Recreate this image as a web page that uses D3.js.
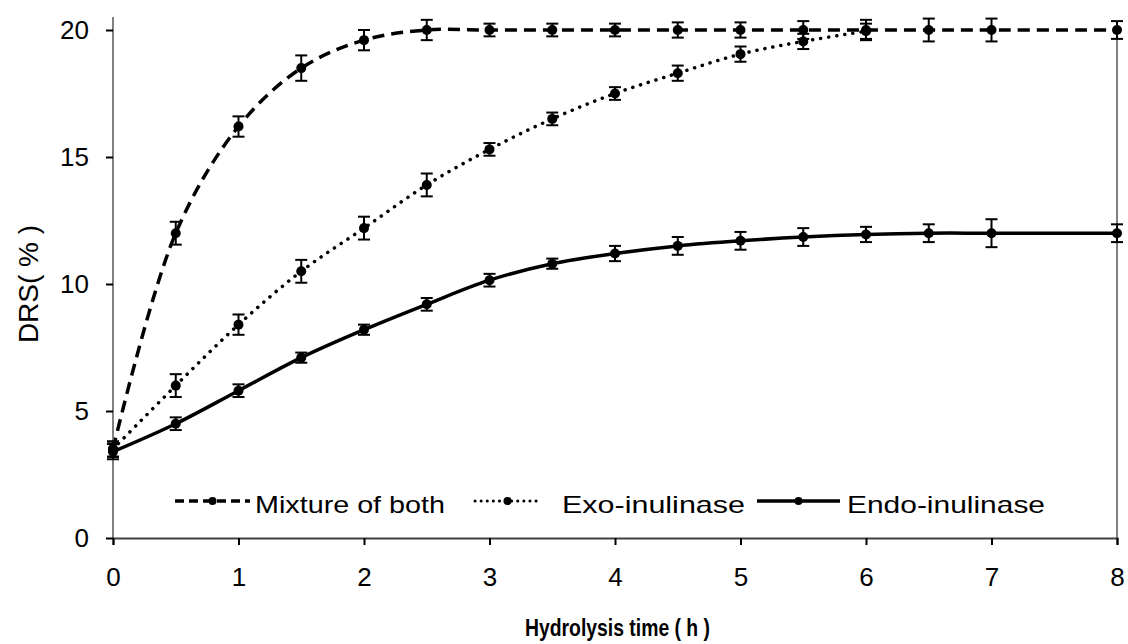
<!DOCTYPE html>
<html>
<head>
<meta charset="utf-8">
<script src="https://cdn.jsdelivr.net/npm/d3@7"></script>
<style>
  body { margin: 0; background: #fff; }
  text { font-family: "Liberation Sans", Arial, sans-serif; fill: #000; }
</style>
</head>
<body>
<div class="viz"></div>
<script>
// Hydrolysis time (h)
const timesMix = [0, 0.5, 1, 1.5, 2, 2.5, 3, 3.5, 4, 4.5, 5, 5.5, 6, 6.5, 7, 8];
const mixValues = [3.5, 12.0, 16.2, 18.5, 19.6, 20.0, 20.0, 20.0, 20.0, 20.0, 20.0, 20.0, 20.0, 20.0, 20.0, 20.0];
const mixErrors = [0.3, 0.45, 0.4, 0.5, 0.4, 0.4, 0.25, 0.25, 0.25, 0.3, 0.3, 0.35, 0.4, 0.45, 0.45, 0.35];

const timesExo = [0, 0.5, 1, 1.5, 2, 2.5, 3, 3.5, 4, 4.5, 5, 5.5, 6];
const exoValues = [3.5, 6.0, 8.4, 10.5, 12.2, 13.9, 15.3, 16.5, 17.5, 18.3, 19.05, 19.55, 19.95];
const exoErrors = [0.3, 0.45, 0.4, 0.45, 0.45, 0.45, 0.25, 0.25, 0.25, 0.3, 0.3, 0.3, 0.3];

const timesEndo = [0, 0.5, 1, 1.5, 2, 2.5, 3, 3.5, 4, 4.5, 5, 5.5, 6, 6.5, 7, 8];
const endoValues = [3.4, 4.5, 5.8, 7.1, 8.2, 9.2, 10.15, 10.8, 11.2, 11.5, 11.7, 11.85, 11.95, 12.0, 12.0, 12.0];
const endoErrors = [0.3, 0.25, 0.25, 0.2, 0.2, 0.25, 0.25, 0.2, 0.3, 0.35, 0.35, 0.35, 0.3, 0.35, 0.55, 0.35];

const xTicks = [0, 1, 2, 3, 4, 5, 6, 7, 8];
const yTicks = [0, 5, 10, 15, 20];

const totalWidth = 1128;
const totalHeight = 644;
const margin = { top: 30, right: 11, bottom: 106, left: 113 };
const width = totalWidth - margin.left - margin.right;
const height = totalHeight - margin.top - margin.bottom;

const svg = d3
  .select(".viz")
  .append("svg")
  .attr("width", totalWidth)
  .attr("height", totalHeight);

const g = svg
  .append("g")
  .attr("transform", `translate(${margin.left},${margin.top})`);

const xScale = d3.scaleLinear().domain([0, 8]).range([0, width]);
const yScale = d3.scaleLinear().domain([0, 20]).range([height, 0]);

// Frame lines: gray left and right, darker bottom
g.append("line")
  .attr("x1", 0).attr("x2", 0)
  .attr("y1", -13).attr("y2", height)
  .attr("stroke", "#808080").attr("stroke-width", 2);

g.append("line")
  .attr("x1", width).attr("x2", width)
  .attr("y1", 0).attr("y2", height)
  .attr("stroke", "#808080").attr("stroke-width", 2);

// Axes
const xAxis = g
  .append("g")
  .attr("transform", `translate(0,${height})`)
  .call(d3.axisBottom(xScale).tickValues(xTicks).tickSize(7).tickPadding(23).tickFormat(d3.format("d")));
xAxis.select(".domain").attr("stroke", "#404040").attr("stroke-width", 2);
xAxis.selectAll(".tick line").attr("stroke", "#000").attr("stroke-width", 2);
xAxis.selectAll(".tick text")
  .style("font-size", "26px")
  .style("font-family", "'Liberation Sans', Arial, sans-serif")
  .attr("fill", "#000");

const yAxis = g
  .append("g")
  .call(d3.axisLeft(yScale).tickValues(yTicks).tickSize(7).tickPadding(17).tickFormat(d3.format("d")));
yAxis.select(".domain").remove();
yAxis.selectAll(".tick line").attr("stroke", "#000").attr("stroke-width", 2);
yAxis.selectAll(".tick text")
  .style("font-size", "26px")
  .style("font-family", "'Liberation Sans', Arial, sans-serif")
  .attr("fill", "#000");

// Axis titles
svg.append("text")
  .attr("x", 525)
  .attr("y", 636)
  .attr("textLength", 185)
  .attr("lengthAdjust", "spacingAndGlyphs")
  .style("font-size", "24px")
  .style("font-weight", "bold")
  .text("Hydrolysis time ( h )");

svg.append("text")
  .attr("transform", `translate(38, ${margin.top + yScale(10)}) rotate(-90)`)
  .attr("text-anchor", "middle")
  .style("font-size", "28px")
  .text("DRS( % )");

// Series
const series = [
  { name: "Mixture of both", x: timesMix, y: mixValues, err: mixErrors, dash: "12,7", cap: "butt", width: 3.5 },
  { name: "Exo-inulinase", x: timesExo, y: exoValues, err: exoErrors, dash: "0.1,8", cap: "round", width: 3.5 },
  { name: "Endo-inulinase", x: timesEndo, y: endoValues, err: endoErrors, dash: null, cap: "butt", width: 3.5 },
];

const line = d3
  .line()
  .x((d) => xScale(d[0]))
  .y((d) => yScale(d[1]))
  .curve(d3.curveCatmullRom.alpha(0.5));

series.forEach((s) => {
  const pts = s.x.map((t, i) => [t, s.y[i], s.err[i]]);

  g.append("path")
    .datum(pts)
    .attr("d", line)
    .attr("fill", "none")
    .attr("stroke", "#000")
    .attr("stroke-width", s.width)
    .attr("stroke-linecap", s.cap)
    .attr("stroke-dasharray", s.dash);

  // Error bars
  const eb = g.append("g").attr("stroke", "#000").attr("stroke-width", 2);
  eb.selectAll(".v")
    .data(pts)
    .enter()
    .append("line")
    .attr("x1", (d) => xScale(d[0]))
    .attr("x2", (d) => xScale(d[0]))
    .attr("y1", (d) => yScale(d[1] - d[2]))
    .attr("y2", (d) => yScale(d[1] + d[2]));
  eb.selectAll(".t")
    .data(pts)
    .enter()
    .append("line")
    .attr("x1", (d) => xScale(d[0]) - 6)
    .attr("x2", (d) => xScale(d[0]) + 6)
    .attr("y1", (d) => yScale(d[1] + d[2]))
    .attr("y2", (d) => yScale(d[1] + d[2]));
  eb.selectAll(".b")
    .data(pts)
    .enter()
    .append("line")
    .attr("x1", (d) => xScale(d[0]) - 6)
    .attr("x2", (d) => xScale(d[0]) + 6)
    .attr("y1", (d) => yScale(d[1] - d[2]))
    .attr("y2", (d) => yScale(d[1] - d[2]));

  // Markers
  g.selectAll(null)
    .data(pts)
    .enter()
    .append("circle")
    .attr("cx", (d) => xScale(d[0]))
    .attr("cy", (d) => yScale(d[1]))
    .attr("r", 5)
    .attr("fill", "#000");
});

// Legend (sample line start/end, text start and width)
const legendPos = [
  { x1: 175, x2: 250, tx: 255, tw: 190 },
  { x1: 475, x2: 540, tx: 562, tw: 183 },
  { x1: 757, x2: 840, tx: 847, tw: 198 },
];
const legendY = 501;

series.forEach((s, i) => {
  const p = legendPos[i];
  svg.append("line")
    .attr("x1", p.x1).attr("x2", p.x2)
    .attr("y1", legendY).attr("y2", legendY)
    .attr("stroke", "#000")
    .attr("stroke-width", i === 1 ? 3 : 3.5)
    .attr("stroke-linecap", s.cap)
    .attr("stroke-dasharray", i === 0 ? "9,5" : i === 1 ? "0.1,6" : null);
  svg.append("circle")
    .attr("cx", (p.x1 + p.x2) / 2).attr("cy", legendY)
    .attr("r", 4).attr("fill", "#000");
  svg.append("text")
    .attr("x", p.tx).attr("y", legendY + 3)
    .attr("dominant-baseline", "central")
    .attr("textLength", p.tw)
    .attr("lengthAdjust", "spacingAndGlyphs")
    .style("font-size", "24px")
    .text(s.name);
});
</script>
</body>
</html>
